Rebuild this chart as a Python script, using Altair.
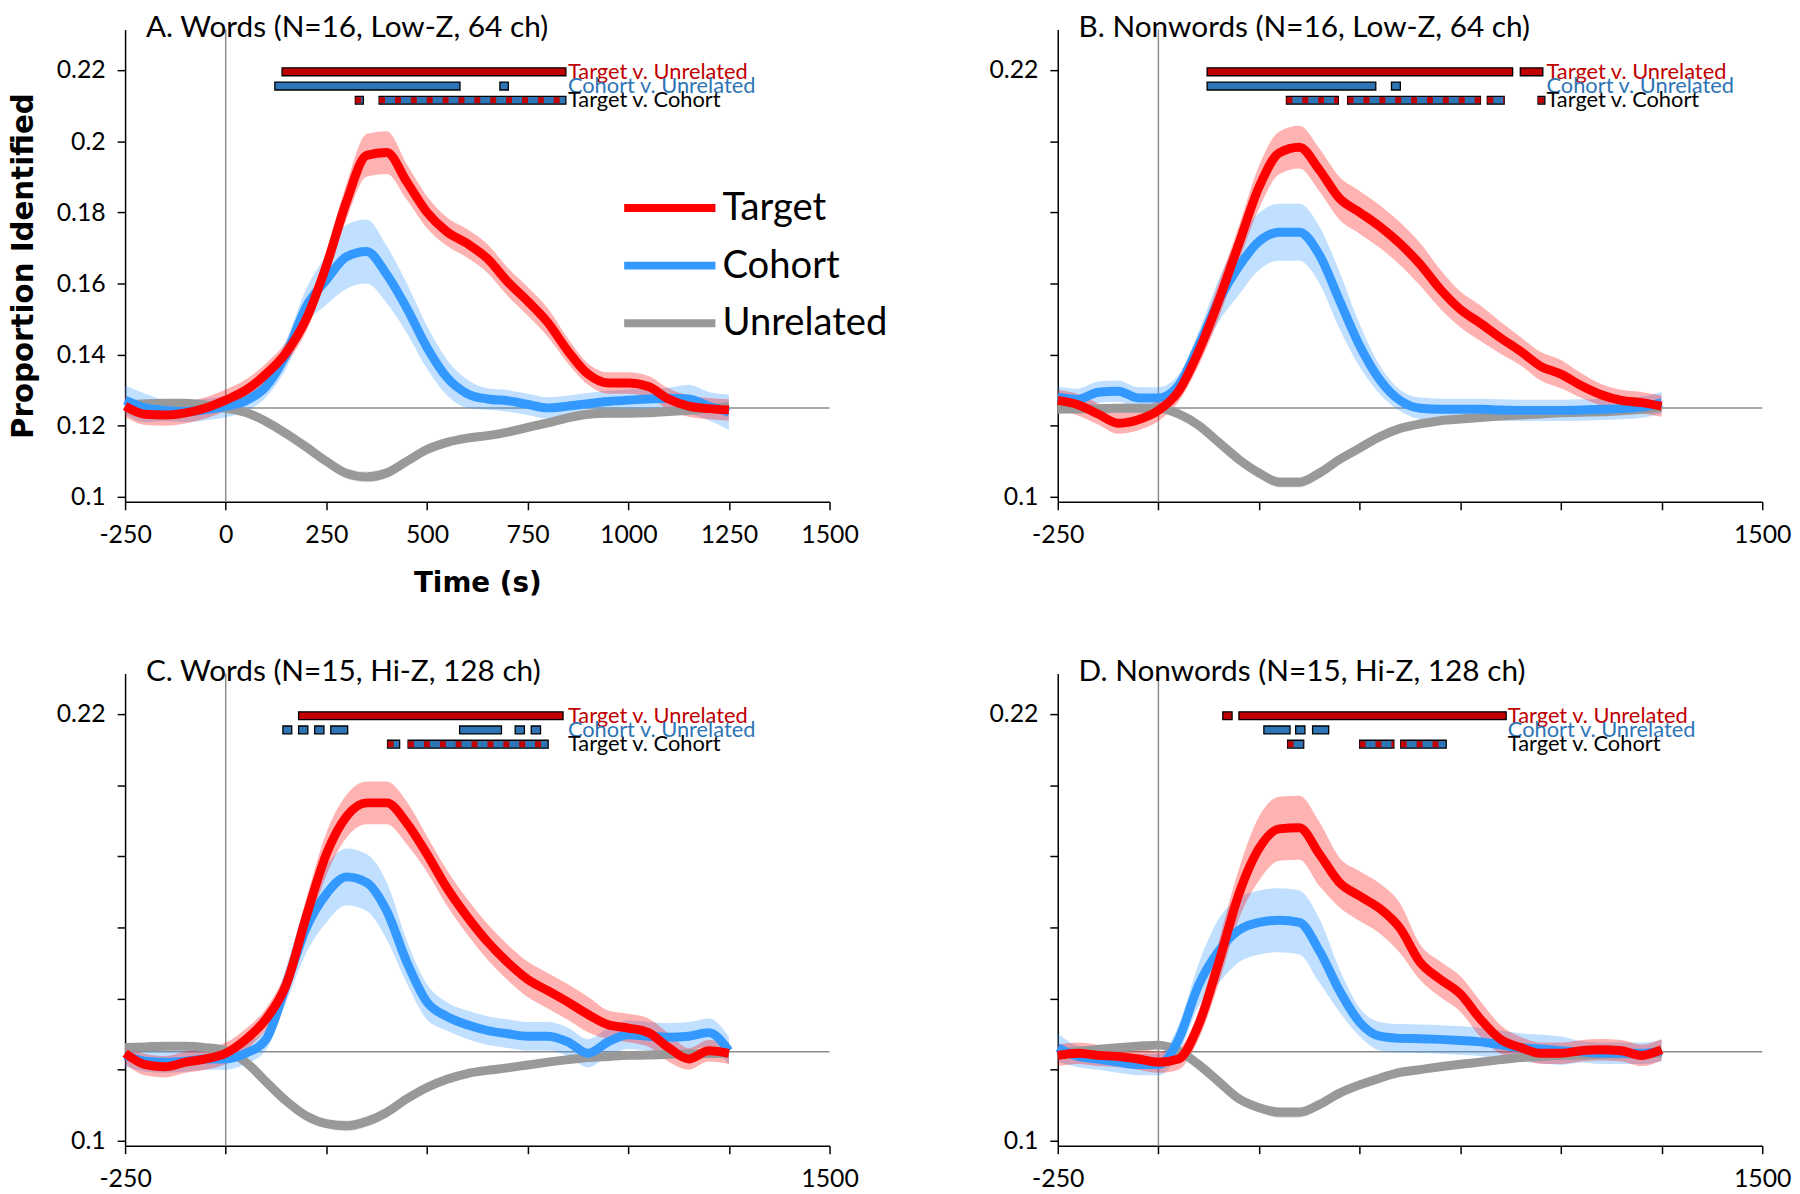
import altair as alt
import pandas as pd

# ---------------- data ----------------
TIME = [-250, -200, -150, -100, -50, 0, 50, 100, 150, 200, 250, 300, 350, 400, 450,
        500, 550, 600, 650, 700, 750, 800, 850, 900, 950, 1000, 1050, 1100, 1150, 1200, 1250]

SERIES = ["Target", "Cohort", "Unrelated"]
LINE_COLORS = ["#FF0000", "#3399FF", "#999999"]

# Panel A
A_TARGET = [0.1255, 0.1232, 0.1230, 0.1236, 0.1250, 0.1272, 0.1300, 0.1345, 0.1405, 0.1500,
            0.1650, 0.1830, 0.1960, 0.1968, 0.1885, 0.1800, 0.1745, 0.1712, 0.1670, 0.1605,
            0.1550, 0.1490, 0.1410, 0.1345, 0.1320, 0.1320, 0.1310, 0.1275, 0.1255, 0.1248, 0.1244]
A_TARGET_ERR = [0.003, 0.003, 0.003, 0.003, 0.003, 0.003, 0.003, 0.003, 0.003, 0.0035,
                0.004, 0.005, 0.006, 0.006, 0.005, 0.0045, 0.004, 0.004, 0.004, 0.004,
                0.004, 0.004, 0.0035, 0.003, 0.003, 0.003, 0.003, 0.003, 0.003, 0.003, 0.003]
A_COHORT = [0.1272, 0.1250, 0.1243, 0.1240, 0.1245, 0.1254, 0.1270, 0.1310, 0.1400, 0.1535,
            0.1610, 0.1675, 0.1690, 0.1625, 0.1530, 0.1420, 0.1335, 0.1290, 0.1275, 0.1270,
            0.1260, 0.1250, 0.1255, 0.1262, 0.1268, 0.1272, 0.1275, 0.1277, 0.1275, 0.1255, 0.1238]
A_COHORT_ERR = [0.004, 0.004, 0.003, 0.003, 0.003, 0.003, 0.003, 0.003, 0.004, 0.005,
                0.007, 0.009, 0.009, 0.008, 0.007, 0.006, 0.005, 0.004, 0.003, 0.003,
                0.003, 0.003, 0.003, 0.003, 0.003, 0.003, 0.003, 0.003, 0.004, 0.004, 0.005]
A_UNREL = [0.1258, 0.1262, 0.1263, 0.1263, 0.1258, 0.1249, 0.1237, 0.1212, 0.1178, 0.1140,
           0.1100, 0.1066, 0.1056, 0.1067, 0.1100, 0.1133, 0.1153, 0.1165, 0.1172, 0.1182,
           0.1195, 0.1208, 0.1222, 0.1232, 0.1235, 0.1235, 0.1236, 0.1240, 0.1243, 0.1248, 0.1254]
A_UNREL_ERR = [0.001, 0.001, 0.001, 0.001, 0.001, 0.001, 0.001, 0.001, 0.001, 0.001,
               0.0012, 0.0015, 0.0015, 0.0015, 0.0012, 0.001, 0.001, 0.001, 0.001, 0.001,
               0.001, 0.001, 0.001, 0.001, 0.001, 0.001, 0.001, 0.001, 0.001, 0.001, 0.001]

# Panel B
B_TARGET = [0.1271, 0.1259, 0.1233, 0.1207, 0.1217, 0.1243, 0.1297, 0.1409, 0.1552, 0.1712,
            0.1871, 0.1967, 0.1983, 0.1919, 0.1839, 0.1800, 0.1760, 0.1712, 0.1654, 0.1584,
            0.1527, 0.1488, 0.1447, 0.1409, 0.1367, 0.1345, 0.1313, 0.1287, 0.1271, 0.1265, 0.1255]
B_TARGET_ERR = [0.003, 0.003, 0.003, 0.003, 0.003, 0.003, 0.003, 0.004, 0.005, 0.005,
                0.006, 0.006, 0.006, 0.006, 0.006, 0.006, 0.006, 0.006, 0.006, 0.0055,
                0.005, 0.005, 0.0045, 0.004, 0.004, 0.004, 0.0035, 0.003, 0.003, 0.003, 0.003]
B_COHORT = [0.1280, 0.1274, 0.1294, 0.1297, 0.1278, 0.1278, 0.1313, 0.1425, 0.1552, 0.1648,
            0.1718, 0.1744, 0.1744, 0.1680, 0.1552, 0.1425, 0.1329, 0.1271, 0.1249, 0.1246,
            0.1246, 0.1246, 0.1244, 0.1243, 0.1243, 0.1243, 0.1244, 0.1246, 0.1248, 0.1252, 0.1265]
B_COHORT_ERR = [0.003, 0.003, 0.003, 0.003, 0.003, 0.003, 0.003, 0.004, 0.006, 0.008,
                0.008, 0.008, 0.008, 0.008, 0.008, 0.006, 0.004, 0.003, 0.003, 0.003,
                0.003, 0.003, 0.003, 0.003, 0.003, 0.003, 0.003, 0.003, 0.003, 0.003, 0.003]
B_UNREL = [0.1246, 0.1247, 0.1248, 0.1249, 0.1249, 0.1249, 0.1233, 0.1201, 0.1153, 0.1105,
           0.1067, 0.1041, 0.1041, 0.1067, 0.1105, 0.1137, 0.1169, 0.1192, 0.1205, 0.1214,
           0.1219, 0.1223, 0.1227, 0.1230, 0.1233, 0.1236, 0.1238, 0.1239, 0.1242, 0.1246, 0.1252]
B_UNREL_ERR = A_UNREL_ERR

# Panel C
C_TARGET = [0.1246, 0.1214, 0.1208, 0.1221, 0.1230, 0.1246, 0.1285, 0.1342, 0.1438, 0.1630,
            0.1806, 0.1912, 0.1950, 0.1950, 0.1893, 0.1806, 0.1710, 0.1630, 0.1560, 0.1502,
            0.1454, 0.1422, 0.1390, 0.1355, 0.1326, 0.1317, 0.1304, 0.1262, 0.1230, 0.1253, 0.1246]
C_TARGET_ERR = [0.003, 0.003, 0.003, 0.003, 0.003, 0.003, 0.003, 0.003, 0.004, 0.005,
                0.006, 0.006, 0.006, 0.006, 0.006, 0.005, 0.005, 0.005, 0.005, 0.005,
                0.005, 0.005, 0.005, 0.005, 0.004, 0.004, 0.004, 0.004, 0.003, 0.003, 0.003]
C_COHORT = [0.1240, 0.1224, 0.1221, 0.1224, 0.1230, 0.1230, 0.1246, 0.1285, 0.1438, 0.1598,
            0.1694, 0.1742, 0.1726, 0.1646, 0.1502, 0.1390, 0.1349, 0.1326, 0.1310, 0.1301,
            0.1294, 0.1294, 0.1278, 0.1246, 0.1278, 0.1298, 0.1294, 0.1291, 0.1294, 0.1304, 0.1253]
C_COHORT_ERR = [0.003, 0.003, 0.003, 0.003, 0.003, 0.003, 0.003, 0.003, 0.005, 0.007,
                0.008, 0.008, 0.008, 0.008, 0.006, 0.005, 0.004, 0.004, 0.004, 0.004,
                0.004, 0.004, 0.004, 0.004, 0.004, 0.004, 0.004, 0.004, 0.004, 0.004, 0.004]
C_UNREL = [0.1262, 0.1264, 0.1266, 0.1266, 0.1262, 0.1253, 0.1221, 0.1166, 0.1112, 0.1070,
           0.1048, 0.1042, 0.1054, 0.1080, 0.1118, 0.1150, 0.1173, 0.1189, 0.1198, 0.1205,
           0.1213, 0.1221, 0.1228, 0.1234, 0.1237, 0.1240, 0.1241, 0.1243, 0.1244, 0.1245, 0.1246]
C_UNREL_ERR = A_UNREL_ERR

# Panel D
D_TARGET = [0.1240, 0.1246, 0.1240, 0.1237, 0.1230, 0.1221, 0.1230, 0.1326, 0.1502, 0.1694,
            0.1822, 0.1877, 0.1880, 0.1806, 0.1726, 0.1688, 0.1653, 0.1598, 0.1502, 0.1454,
            0.1413, 0.1342, 0.1285, 0.1262, 0.1246, 0.1246, 0.1253, 0.1256, 0.1253, 0.1240, 0.1256]
D_TARGET_ERR = [0.003, 0.003, 0.003, 0.003, 0.003, 0.003, 0.003, 0.004, 0.006, 0.007,
                0.009, 0.009, 0.009, 0.009, 0.007, 0.007, 0.007, 0.007, 0.005, 0.005,
                0.005, 0.005, 0.004, 0.003, 0.003, 0.003, 0.003, 0.003, 0.003, 0.003, 0.003]
D_COHORT = [0.1262, 0.1237, 0.1230, 0.1221, 0.1214, 0.1214, 0.1285, 0.1438, 0.1534, 0.1592,
            0.1614, 0.1620, 0.1614, 0.1534, 0.1422, 0.1333, 0.1294, 0.1288, 0.1287, 0.1285,
            0.1282, 0.1278, 0.1270, 0.1262, 0.1258, 0.1253, 0.1250, 0.1246, 0.1246, 0.1246, 0.1253]
D_COHORT_ERR = [0.004, 0.003, 0.003, 0.003, 0.003, 0.003, 0.004, 0.006, 0.009, 0.009,
                0.009, 0.009, 0.009, 0.009, 0.006, 0.004, 0.004, 0.004, 0.004, 0.004,
                0.004, 0.004, 0.004, 0.004, 0.004, 0.004, 0.003, 0.003, 0.003, 0.003, 0.003]
D_UNREL = [0.1246, 0.1252, 0.1257, 0.1262, 0.1266, 0.1269, 0.1253, 0.1214, 0.1166, 0.1118,
           0.1093, 0.1080, 0.1080, 0.1102, 0.1134, 0.1157, 0.1176, 0.1192, 0.1200, 0.1208,
           0.1215, 0.1221, 0.1228, 0.1234, 0.1237, 0.1240, 0.1241, 0.1243, 0.1244, 0.1245, 0.1246]
D_UNREL_ERR = A_UNREL_ERR

# Significance windows (ms): comparison, start, end
COMPARISONS = ["Target v. Unrelated", "Cohort v. Unrelated", "Target v. Cohort"]
COMP_ROWS = [0.2195, 0.2155, 0.2115]
COMP_FILL = ["#C00000", "#2E75B6", "#2E75B6"]
COMP_TEXT = ["#C00000", "#2E75B6", "#000000"]

A_SIG = [("Target v. Unrelated", 140, 845),
         ("Cohort v. Unrelated", 122, 582), ("Cohort v. Unrelated", 681, 702),
         ("Target v. Cohort", 322, 342), ("Target v. Cohort", 381, 845)]
B_SIG = [("Target v. Unrelated", 121, 880), ("Target v. Unrelated", 899, 955),
         ("Cohort v. Unrelated", 121, 540), ("Cohort v. Unrelated", 579, 601),
         ("Target v. Cohort", 318, 447), ("Target v. Cohort", 470, 800),
         ("Target v. Cohort", 817, 859), ("Target v. Cohort", 943, 960)]
C_SIG = [("Target v. Unrelated", 181, 838),
         ("Cohort v. Unrelated", 142, 164), ("Cohort v. Unrelated", 181, 204),
         ("Cohort v. Unrelated", 221, 244), ("Cohort v. Unrelated", 261, 303),
         ("Cohort v. Unrelated", 581, 685), ("Cohort v. Unrelated", 719, 742),
         ("Cohort v. Unrelated", 759, 782),
         ("Target v. Cohort", 402, 432), ("Target v. Cohort", 453, 801)]
D_SIG = [("Target v. Unrelated", 160, 183), ("Target v. Unrelated", 200, 864),
         ("Cohort v. Unrelated", 262, 327), ("Cohort v. Unrelated", 341, 364),
         ("Cohort v. Unrelated", 383, 423),
         ("Target v. Cohort", 321, 361), ("Target v. Cohort", 500, 585),
         ("Target v. Cohort", 602, 715)]

LABEL_X = {"A": 850, "B": 964, "C": 850, "D": 868}

TITLES = {"A": "A. Words (N=16, Low-Z, 64 ch)",
          "B": "B. Nonwords (N=16, Low-Z, 64 ch)",
          "C": "C. Words (N=15, Hi-Z, 128 ch)",
          "D": "D. Nonwords (N=15, Hi-Z, 128 ch)"}

XTICKS = [-250, 0, 250, 500, 750, 1000, 1250, 1500]
YTICKS = [0.1, 0.12, 0.14, 0.16, 0.18, 0.2, 0.22]
X_DOMAIN = [-250, 1500]
Y_DOMAIN = [0.1, 0.23]
CHANCE = 0.125
ONSET = 0

FONT = "Lato"
W, H = 710, 476


def make_panel(key, curves, sig, full):
    rows = []
    for name, vals, errs in curves:
        for t, v, e in zip(TIME, vals, errs):
            rows.append({"time": t, "value": v, "lo": v - e, "hi": v + e, "series": name})
    df = pd.DataFrame(rows)

    if full:
        xlab = "'' + datum.value"
        ylab = "format(datum.value, '.2~f')"
    else:
        xlab = "(datum.value == -250 || datum.value == 1500) ? '' + datum.value : ''"
        ylab = ("(abs(datum.value - 0.1) < 1e-6 || abs(datum.value - 0.22) < 1e-6)"
                " ? format(datum.value, '.2~f') : ''")

    xaxis = alt.Axis(values=XTICKS, labelExpr=xlab, title="Time (s)" if full else None,
                     labelFlush=False, labelPadding=13,
                     titleFont="DejaVu Sans", titleFontWeight="bold", titleFontSize=28,
                     titlePadding=22, titleColor="black")
    yaxis = alt.Axis(values=YTICKS, labelExpr=ylab,
                     title="Proportion Identified" if full else None,
                     labelFlush=False, labelPadding=12,
                     titleFont="DejaVu Sans", titleFontWeight="bold", titleFontSize=29.5,
                     titlePadding=18, titleColor="black")
    xs = alt.Scale(domain=X_DOMAIN, nice=False, zero=False)
    ys = alt.Scale(domain=Y_DOMAIN, nice=False, zero=False)

    def xa(f):
        return alt.X(f"{f}:Q", scale=xs, axis=xaxis)

    def ya(f):
        return alt.Y(f"{f}:Q", scale=ys, axis=yaxis)

    if full:
        legend = alt.Legend(orient="none", legendX=516, legendY=147, title=None,
                            symbolType="M-1.6,0H1.6", symbolSize=3306,
                            symbolStrokeWidth=8, symbolFillColor="transparent",
                            labelFontSize=38.5, labelFont=FONT, labelColor="black",
                            labelLimit=400, labelOffset=20, rowPadding=5, padding=0)
    else:
        legend = None
    cscale = alt.Scale(domain=SERIES, range=LINE_COLORS)

    refs = pd.DataFrame({"chance": [CHANCE], "onset": [ONSET]})
    layers = []
    layers.append(alt.Chart(refs).mark_rule(color="#8C8C8C", strokeWidth=1.5)
                  .encode(y=ya("chance")))
    layers.append(alt.Chart(refs).mark_rule(color="#8C8C8C", strokeWidth=1.5)
                  .encode(x=xa("onset")))

    order = ["Unrelated", "Cohort", "Target"]
    colour = dict(zip(SERIES, LINE_COLORS))
    for s in order:
        layers.append(alt.Chart(df).transform_filter(alt.datum.series == s)
                      .mark_area(opacity=0.3, interpolate="monotone", fill=colour[s])
                      .encode(x=xa("time"), y=ya("lo"), y2="hi"))

    for s in order:
        layers.append(alt.Chart(df).transform_filter(alt.datum.series == s)
                      .mark_line(strokeWidth=9, interpolate="monotone", strokeCap="butt",
                                 strokeJoin="round")
                      .encode(x=xa("time"), y=ya("value"),
                              color=alt.Color("series:N", scale=cscale, legend=legend)))

    sdf = pd.DataFrame(sig, columns=["comp", "start", "end"])
    sdf["row"] = sdf["comp"].map(dict(zip(COMPARISONS, COMP_ROWS)))
    for comp, fillc, textc, row in zip(COMPARISONS, COMP_FILL, COMP_TEXT, COMP_ROWS):
        sub = sdf[sdf["comp"] == comp]
        layers.append(alt.Chart(sub).mark_bar(orient="horizontal", size=8, fill=fillc,
                                              stroke="black", strokeWidth=1.3)
                      .encode(x=xa("start"), x2="end", y=ya("row")))
        if comp == "Target v. Cohort":
            layers.append(alt.Chart(sub).mark_rule(color="#C00000", strokeWidth=6,
                                                   strokeDash=[6, 10], strokeCap="butt")
                          .encode(x=xa("start"), x2="end", y=ya("row")))
        tdf = pd.DataFrame({"comp": [comp], "lx": [LABEL_X[key]], "row": [row]})
        layers.append(alt.Chart(tdf).mark_text(align="left", baseline="middle", font=FONT,
                                               fontSize=22, color=textc)
                      .encode(x=xa("lx"), y=ya("row"), text="comp:N"))

    return alt.layer(*layers).properties(
        width=W, height=H,
        title=alt.TitleParams(TITLES[key], anchor="start", frame="group", dx=21,
                              fontSize=30, font=FONT, fontWeight="normal",
                              color="black", offset=-14))


A = make_panel("A", [("Target", A_TARGET, A_TARGET_ERR), ("Cohort", A_COHORT, A_COHORT_ERR),
                     ("Unrelated", A_UNREL, A_UNREL_ERR)], A_SIG, True)
B = make_panel("B", [("Target", B_TARGET, B_TARGET_ERR), ("Cohort", B_COHORT, B_COHORT_ERR),
                     ("Unrelated", B_UNREL, B_UNREL_ERR)], B_SIG, False)
C = make_panel("C", [("Target", C_TARGET, C_TARGET_ERR), ("Cohort", C_COHORT, C_COHORT_ERR),
                     ("Unrelated", C_UNREL, C_UNREL_ERR)], C_SIG, False)
D = make_panel("D", [("Target", D_TARGET, D_TARGET_ERR), ("Cohort", D_COHORT, D_COHORT_ERR),
                     ("Unrelated", D_UNREL, D_UNREL_ERR)], D_SIG, False)

chart = (alt.concat(A, B, C, D, columns=2, spacing={"row": 173, "column": 230}, bounds="flush")
         .resolve_scale(color="independent")
         .resolve_legend(color="independent")
         .properties(padding=0)
         .configure_view(stroke=None)
         .configure_axis(domainColor="black", domainWidth=1.5, tickColor="black",
                         tickWidth=1.5, tickSize=8, labelFont=FONT, labelFontSize=25,
                         labelColor="black", grid=False))

chart.save("out.html", embed_options={"renderer": "svg", "actions": False})
